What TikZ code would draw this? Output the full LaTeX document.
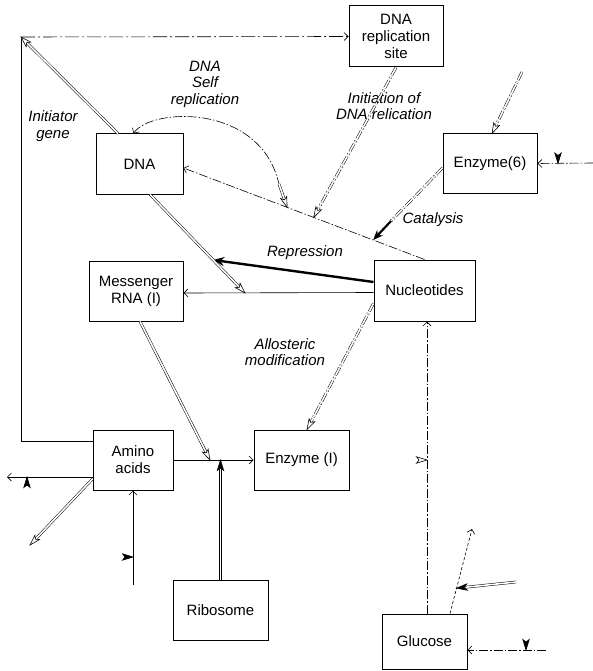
\documentclass[tikz,border=0pt]{standalone}
\usepackage{fontspec}
\setmainfont{Liberation Sans}
\usetikzlibrary{arrows.meta,calc}
% double line ending in a hand-drawn arrow head
\newcommand\dblarrow[4]{%
  \draw[dbl,#1,shorten >=7pt] (#2) -- (#3);
  \draw[line width=0.6pt,solid,line join=miter,#4] (#3) -- ($(#3)!11pt!17:(#2)$) -- ($(#3)!8pt!(#2)$) -- ($(#3)!11pt!-17:(#2)$) -- cycle;}
\begin{document}
\begin{tikzpicture}[x=1pt,y=-1pt,
  box/.style={draw, line width=1pt, inner sep=0pt, align=center, font=\fontsize{15}{17}\selectfont},
  lab/.style={inner sep=0pt, align=center, font=\fontsize{15}{16.5}\selectfont\itshape},
  thinl/.style={line width=0.6pt},
  dbl/.style={double, double distance=1.6pt, line width=0.5pt},
  dd/.style={dash pattern=on 9pt off 2pt on 1.5pt off 2pt},
  otip/.style={-{Straight Barb[length=4pt,width=8pt]}},
  ohead/.style={fill=white},
  fhead/.style={fill=black},
]
\useasboundingbox (0,0) rectangle (593,671);

% boxes
\node[box, minimum width=94pt, minimum height=61pt] (rep) at (396,36.5) {DNA\\replication\\site};
\node[box, minimum width=87pt, minimum height=60pt] (dna) at (139.5,164) {DNA};
\node[box, minimum width=94pt, minimum height=59pt] (enz6) at (490,163.5) {Enzyme(6)};
\node[box, minimum width=94pt, minimum height=60pt] (mrna) at (136,291) {Messenger\\RNA (I)};
\node[box, minimum width=101pt, minimum height=61pt] (nuc) at (424.5,290.5) {Nucleotides};
\node[box, minimum width=80pt, minimum height=60pt] (amino) at (133,460) {Amino\\acids};
\node[box, minimum width=95pt, minimum height=60pt] (enz1) at (301.5,460) {Enzyme (I)};
\node[box, minimum width=95pt, minimum height=60pt] (ribo) at (220.5,610) {Ribosome};
\node[box, minimum width=85pt, minimum height=55pt] (glu) at (424.5,641.5) {Glucose};

% labels
\node[lab] (lig) at (53,126) {Initiator\\gene};
\node[lab] (lself) at (205,84) {DNA\\Self\\replication};
\node[lab] (linit) at (384,106) {Initiation of\\DNA relication};
\node[lab] (lcat) at (433,220) {Catalysis};
\node[lab] (lrep) at (305,253) {Repression};
\node[lab] (lallo) at (285,352) {Allosteric\\modification};

% coordinates
\coordinate (tl) at (21,37);
\coordinate (dnaR) at ([yshift=-4pt]dna.east);
\coordinate (dnaT) at ([xshift=-21.5pt]dna.north);
\coordinate (dnaB) at ([xshift=10.5pt]dna.south);
\coordinate (j1) at ($(dnaR)!0.43!(nuc.north)$);
\coordinate (j2) at ($(dnaR)!0.54!(nuc.north)$);
\coordinate (j3) at ($(dnaR)!0.787!(nuc.north)$);
\coordinate (cv) at (279,184);
\coordinate (t1) at (245,293);
\coordinate (j4) at ($(dnaB)!0.665!(t1)$);
\coordinate (t2) at (210,460);
\coordinate (e6top) at (522,72);
\coordinate (e6n) at ([xshift=2pt]enz6.north);
\coordinate (e6w) at ([yshift=-4.5pt]enz6.west);
\coordinate (c1) at (391,221);
\coordinate (e6in) at (593,163);
\coordinate (e6v) at (558,103);
\coordinate (e6j) at (e6v |- enz6.east);
\coordinate (nucw) at ([yshift=-13pt]nuc.west);
\coordinate (enz1n) at ([xshift=5.5pt]enz1.north);
\coordinate (mrnas) at ([xshift=4pt]mrna.south);
\coordinate (ribon) at (ribo.north);
\coordinate (t3) at (ribo.north |- amino.east);
\coordinate (enz1e) at (enz1.east);
\coordinate (t4) at ([xshift=2.5pt]glu.north |- enz1.east);
\coordinate (repS) at (rep.south);
\coordinate (gtop) at ([xshift=25.5pt]glu.north);
\coordinate (g1) at (472,529);
\coordinate (g5) at ($(gtop)!0.3!(g1)$);
\coordinate (g2) at (516,582);
\coordinate (gin) at (546,650);
\coordinate (gv) at (526,572);
\coordinate (gj) at (gv |- gin);
\coordinate (aout) at (7,477);
\coordinate (av) at (27,554);
\coordinate (aj) at (av |- aout);
\coordinate (aw) at ([yshift=-19pt]amino.west);
\coordinate (a2) at (30,545);
\coordinate (abin) at (133,585);
\coordinate (ah) at (78,557);
\coordinate (abj) at (abin |- ah);

% initiator gene loop
\draw[thinl] (tl) |- ([yshift=19pt]amino.west);
\draw[thinl, dash pattern=on 14pt off 3pt on 2pt off 3pt, otip] (tl) -- (rep.west);
\dblarrow{}{dnaT}{tl}{ohead}

% DNA self replication
\draw[thinl, dd, {Straight Barb[length=4pt,width=8pt]}-] ([xshift=-6pt]dna.north) .. controls (150,108) and (260,102) .. (cv);
\dblarrow{}{cv}{j1}{ohead}

% Nucleotides -> DNA
\draw[thinl, dd, otip] (nuc.north) -- (dnaR);

% initiation of DNA replication
\dblarrow{dd}{repS}{j2}{ohead}

% enzyme 6 inputs
\dblarrow{dd}{e6top}{e6n}{ohead}
\draw[thinl, dd, otip] (e6in) -- (enz6.east);
\dblarrow{}{e6v}{e6j}{fhead}

% catalysis
\draw[dbl, dd] (e6w) -- (c1);
\draw[line width=2.2pt, -{Stealth[length=10pt,width=8pt]}] (c1) -- (j3);

% repression
\draw[line width=2.4pt, -{Stealth[length=11pt,width=9pt]}] ([yshift=8.5pt]nuc.west) -- (j4);

% nucleotides -> mRNA
\draw[thinl, otip] ([yshift=-2pt]nuc.west) -- ([yshift=-2pt]mrna.east);

% DNA -> transcription
\dblarrow{}{dnaB}{t1}{ohead}

% allosteric modification
\dblarrow{dd}{nucw}{enz1n}{ohead}

% mRNA -> translation
\dblarrow{}{mrnas}{t2}{ohead}

% amino -> enzyme 1
\draw[thinl, otip] (amino.east) -- (enz1.west);
\dblarrow{}{ribon}{t3}{fhead}
\dblarrow{}{enz1e}{t4}{ohead}

% glucose -> nucleotides
\draw[thinl, dd, otip] ([xshift=2.5pt]glu.north) -- ([xshift=2.5pt]nuc.south);
\draw[thinl, dash pattern=on 3pt off 2pt, otip] (gtop) -- (g1);
\dblarrow{}{g2}{g5}{fhead}
\draw[thinl, dd, otip] (gin) -- (glu.east |- gin);
\dblarrow{}{gv}{gj}{fhead}

% amino acids inputs/outputs
\draw[thinl, otip] ([yshift=-17pt]amino.west) -- (aout);
\dblarrow{}{av}{aj}{fhead}
\dblarrow{}{aw}{a2}{ohead}
\draw[thinl, otip] (abin) -- (amino.south);
\dblarrow{}{ah}{abj}{fhead}
\end{tikzpicture}
\end{document}
